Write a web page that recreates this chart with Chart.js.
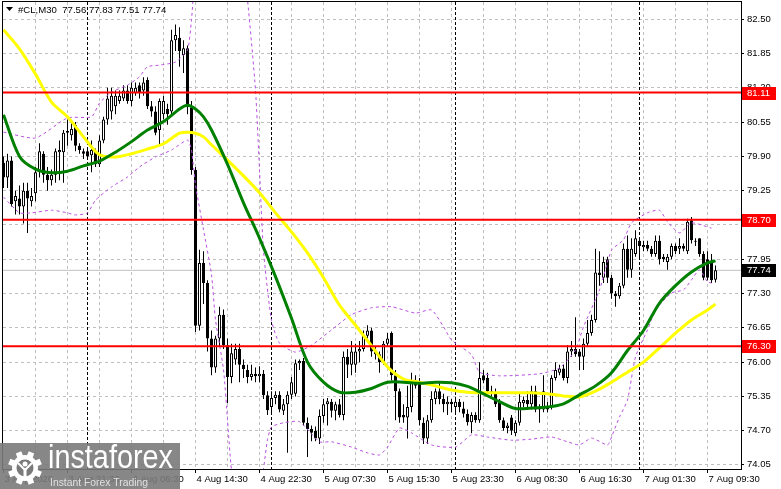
<!DOCTYPE html>
<html>
<head>
<meta charset="utf-8">
<script src="https://cdn.jsdelivr.net/npm/chart.js@4.4.0/dist/chart.umd.min.js"></script>
<style>
  html, body { margin: 0; padding: 0; background: #fff; }
  #wrap { width: 781px; height: 489px; position: relative; }
</style>
</head>
<body>
<div id="wrap"><canvas id="chart" width="781" height="489"></canvas></div>
<script>
// #CL M30 candles, one entry per bar (bar 0 = 3 Aug afternoon, last bar = 7 Aug 10:00)
const opens = [
  79.78, 79.50, 79.82, 79.05, 79.10, 78.95, 79.25, 79.05, 79.20, 79.60,
  79.95, 79.55, 79.45, 79.55, 79.98, 79.98, 80.35, 80.30, 80.50, 80.10,
  80.00, 80.00, 79.92, 80.00, 79.75, 80.20, 80.60, 80.75, 80.85, 80.95,
  81.00, 81.15, 80.95, 81.10, 81.25, 81.15, 81.35, 80.85, 80.75, 80.40,
  80.70, 80.80, 80.75, 82.10, 82.15, 81.82, 81.95, 80.83, 79.64, 76.69,
  77.88, 77.50, 76.45, 75.90, 76.45, 76.90, 76.32, 75.72, 76.05, 76.25,
  75.95, 75.85, 75.72, 75.78, 75.73, 75.78, 75.37, 75.15, 75.32, 75.38,
  75.08, 75.20, 75.38, 75.40, 75.98, 76.02, 74.85, 74.73, 74.70, 74.55,
  74.98, 75.20, 75.25, 75.08, 75.20, 75.00, 76.10, 75.95, 75.95, 76.20,
  76.25, 76.50, 76.60, 76.20, 76.15, 76.00, 76.35, 76.55, 75.75, 75.45,
  75.00, 74.95, 75.15, 75.60, 75.60, 74.85, 74.55, 74.90, 75.30, 75.45,
  75.30, 75.20, 75.25, 75.15, 75.25, 75.12, 75.02, 74.86, 75.00, 74.90,
  75.75, 75.70, 75.45, 75.42, 75.25, 74.90, 74.75, 74.95, 74.65, 74.85,
  75.22, 75.28, 75.20, 75.45, 75.15, 75.10, 75.15, 75.15, 75.70, 75.80,
  75.88, 75.70, 76.20, 76.25, 76.20, 76.10, 76.35, 76.55, 76.80, 77.70,
  77.60, 77.95, 77.60, 77.30, 77.25, 77.45, 78.15, 77.75, 78.05, 78.30,
  78.18, 78.22, 78.15, 78.05, 78.30, 78.00, 77.90, 78.00, 78.20, 78.15,
  78.20, 78.10, 78.69, 78.30, 78.35, 78.05, 77.95, 77.90, 77.56
];
const highs = [
  79.90, 79.95, 79.90, 79.25, 79.35, 79.40, 79.40, 79.30, 79.70, 80.15,
  80.00, 79.70, 79.65, 80.05, 80.20, 80.40, 80.60, 80.55, 80.55, 80.15,
  80.05, 80.05, 80.20, 80.05, 80.30, 80.65, 81.20, 81.20, 81.15, 81.15,
  81.25, 81.25, 81.30, 81.30, 81.30, 81.40, 81.40, 80.95, 80.85, 81.00,
  81.05, 80.90, 82.30, 82.40, 82.35, 82.10, 82.00, 80.95, 79.70, 78.13,
  78.10, 77.55, 76.60, 76.50, 77.05, 77.00, 76.45, 76.35, 76.35, 76.35,
  76.05, 75.95, 75.95, 75.90, 75.92, 75.85, 75.45, 75.45, 75.45, 75.45,
  75.30, 75.45, 75.72, 76.05, 76.05, 76.08, 74.95, 74.80, 74.78, 75.10,
  75.30, 75.32, 75.30, 75.25, 75.30, 76.20, 76.25, 76.40, 76.35, 76.40,
  76.60, 76.70, 76.65, 76.30, 76.20, 76.40, 76.55, 76.58, 75.85, 75.50,
  75.20, 75.55, 75.80, 75.75, 75.70, 74.95, 75.00, 75.45, 75.50, 75.60,
  75.40, 75.35, 75.30, 75.30, 75.30, 75.25, 75.10, 75.05, 75.05, 76.00,
  75.85, 75.80, 75.55, 75.50, 75.30, 74.95, 74.85, 75.00, 74.90, 75.40,
  75.35, 75.45, 75.55, 75.55, 75.20, 75.75, 75.25, 75.75, 76.00, 75.95,
  75.95, 76.32, 76.40, 76.85, 76.25, 76.45, 76.80, 76.90, 78.15, 78.10,
  78.00, 78.00, 77.65, 77.35, 77.50, 78.25, 78.40, 78.35, 78.50, 78.35,
  78.30, 78.30, 78.20, 78.40, 78.40, 78.05, 78.05, 78.25, 78.25, 78.35,
  78.25, 78.72, 78.75, 78.35, 78.35, 78.10, 78.10, 78.05, 77.83
];
const lows = [
  79.30, 79.30, 78.95, 78.80, 78.80, 78.63, 78.45, 78.95, 79.05, 79.50,
  79.40, 79.25, 79.35, 79.40, 79.45, 79.40, 80.10, 80.20, 80.00, 79.95,
  79.85, 79.85, 79.60, 79.70, 79.70, 80.15, 80.50, 80.60, 80.70, 80.90,
  80.95, 80.90, 80.85, 81.05, 81.00, 81.05, 80.80, 80.65, 80.30, 80.10,
  80.60, 80.50, 80.70, 81.90, 81.60, 81.48, 80.70, 79.55, 76.57, 76.60,
  77.10, 76.20, 75.75, 75.80, 76.30, 76.25, 75.22, 75.60, 75.95, 75.62,
  75.70, 75.60, 75.65, 75.62, 75.62, 75.30, 75.00, 75.05, 75.20, 75.05,
  75.00, 74.28, 75.30, 75.35, 75.85, 74.80, 74.20, 74.50, 74.50, 74.45,
  74.85, 74.80, 74.95, 74.90, 74.95, 74.90, 75.70, 75.75, 75.80, 76.00,
  76.20, 76.45, 76.10, 76.05, 75.80, 75.95, 76.30, 75.65, 74.90, 74.85,
  74.85, 74.55, 75.05, 75.50, 74.80, 74.45, 74.45, 74.85, 75.20, 75.20,
  75.05, 75.00, 75.05, 75.05, 75.05, 74.95, 74.80, 74.65, 74.85, 74.85,
  75.60, 75.40, 75.35, 75.15, 74.85, 74.70, 74.65, 74.62, 74.60, 74.80,
  75.15, 75.10, 75.10, 75.05, 74.85, 75.05, 75.05, 75.10, 75.65, 75.75,
  75.65, 75.60, 76.10, 76.10, 75.85, 75.85, 76.30, 76.50, 76.75, 77.45,
  77.50, 77.50, 77.20, 77.05, 77.20, 77.40, 77.60, 77.60, 78.00, 77.95,
  78.10, 78.10, 78.00, 78.00, 77.85, 77.90, 77.75, 77.95, 78.05, 78.05,
  78.10, 78.05, 78.25, 78.20, 78.00, 77.55, 77.55, 77.50, 77.51
];
const closes = [
  79.50, 79.82, 79.00, 79.15, 78.95, 79.25, 79.10, 79.15, 79.60, 80.00,
  79.55, 79.45, 79.55, 80.00, 80.02, 80.35, 80.38, 80.42, 80.10, 80.02,
  79.95, 79.90, 80.02, 79.75, 80.20, 80.60, 81.00, 81.05, 81.05, 81.05,
  81.15, 80.95, 81.20, 81.20, 81.10, 81.30, 80.85, 80.75, 80.35, 80.95,
  80.95, 80.70, 82.10, 82.20, 81.90, 81.95, 80.83, 79.64, 76.69, 77.88,
  77.50, 76.45, 75.90, 76.45, 76.90, 76.32, 75.72, 76.17, 76.25, 75.95,
  75.87, 75.72, 75.78, 75.73, 75.78, 75.37, 75.09, 75.32, 75.38, 75.10,
  75.20, 75.38, 75.62, 75.98, 76.02, 74.85, 74.73, 74.66, 74.55, 74.98,
  75.20, 75.26, 75.08, 75.20, 75.00, 76.10, 75.95, 76.20, 76.20, 76.25,
  76.50, 76.60, 76.20, 76.15, 76.00, 76.35, 76.45, 75.75, 75.45, 74.95,
  74.95, 75.15, 75.65, 75.55, 74.90, 74.55, 74.90, 75.30, 75.45, 75.30,
  75.20, 75.25, 75.20, 75.25, 75.15, 75.02, 74.86, 75.00, 74.90, 75.70,
  75.65, 75.45, 75.40, 75.20, 74.90, 74.75, 74.80, 74.70, 74.85, 75.25,
  75.28, 75.20, 75.45, 75.10, 75.10, 75.45, 75.10, 75.70, 75.85, 75.88,
  75.70, 76.20, 76.25, 76.15, 76.10, 76.35, 76.55, 76.80, 77.70, 77.65,
  77.90, 77.60, 77.30, 77.25, 77.45, 78.15, 77.75, 78.15, 78.35, 78.20,
  78.22, 78.15, 78.05, 78.30, 77.95, 77.95, 78.00, 78.20, 78.10, 78.20,
  78.15, 78.66, 78.31, 78.28, 78.05, 77.60, 77.60, 77.55, 77.74
];

// moving averages, read at these bar numbers
const maBars = [0, 4, 8, 12, 16, 20, 24, 28, 32, 36, 40, 44, 46, 48, 50, 52, 56, 60, 64, 68,
  72, 76, 80, 84, 88, 92, 96, 100, 104, 108, 112, 116, 120, 124, 128, 132, 136, 140, 144, 148,
  152, 156, 160, 164, 168, 172, 176, 178];
const maGreen = [80.69, 79.90, 79.66, 79.59, 79.62, 79.72, 79.81, 79.98, 80.18, 80.40, 80.56, 80.80,
  80.87, 80.80, 80.65, 80.40, 79.75, 79.02, 78.35, 77.62, 76.83, 76.00, 75.62, 75.43, 75.43, 75.50,
  75.62, 75.62, 75.60, 75.62, 75.61, 75.54, 75.40, 75.25, 75.12, 75.13, 75.15, 75.21, 75.38, 75.55,
  75.80, 76.22, 76.60, 77.12, 77.45, 77.71, 77.88, 77.92];
const maYellow = [82.30, 81.94, 81.46, 80.93, 80.65, 80.27, 79.93, 79.89, 79.95, 80.04, 80.14, 80.34,
  80.36, 80.34, 80.27, 80.12, 79.83, 79.53, 79.21, 78.83, 78.47, 78.07, 77.60, 77.08, 76.70, 76.31,
  75.91, 75.68, 75.62, 75.55, 75.47, 75.43, 75.42, 75.42, 75.42, 75.42, 75.40, 75.36, 75.34, 75.45,
  75.62, 75.81, 76.00, 76.27, 76.55, 76.80, 76.99, 77.10];

// envelope bands (dashed purple)
const upperBars = [0, 8, 16, 22, 24, 27, 31, 34, 36, 39, 43, 46, 47, 48, 52, 56, 60, 61, 63, 64,
  65, 67, 69, 73, 77, 82, 87, 92, 97, 103, 107, 110, 112, 117, 119, 124, 134, 139, 143, 145,
  149, 152, 155, 157, 161, 164, 166, 169, 172, 177];
const upperBand = [80.36, 80.25, 80.63, 80.65, 80.91, 81.12, 81.25, 81.41, 81.60, 81.63, 81.69, 81.92,
  82.49, 83.20, 83.60, 83.60, 83.40, 82.87, 81.16, 79.64, 78.12, 76.79, 76.36, 76.19, 76.32, 76.61,
  76.90, 77.03, 77.05, 76.93, 76.99, 76.67, 76.42, 76.14, 75.81, 75.74, 75.78, 75.89, 76.23, 76.67,
  77.37, 78.12, 78.32, 78.64, 78.83, 78.88, 78.66, 78.45, 78.64, 78.54];
const lowerBars = [0, 4, 7, 12, 16, 18, 21, 23, 27, 31, 34, 38, 42, 46, 47, 48, 50, 52, 53, 55,
  56, 57, 59, 63, 65, 66, 67, 70, 74, 79, 82, 87, 91, 94, 96, 99, 102, 107, 113, 117,
  121, 127, 132, 137, 141, 144, 147, 151, 152, 154, 156, 158, 161, 163, 167, 170, 172, 174, 176, 177];
const lowerBand = [79.13, 78.83, 78.83, 78.88, 78.83, 78.79, 78.83, 79.07, 79.32, 79.51, 79.70, 79.89,
  80.02, 80.21, 80.02, 79.36, 78.51, 77.66, 76.80, 75.86, 74.91, 73.96, 73.20, 73.20, 73.98, 74.53,
  74.77, 74.85, 74.87, 74.49, 74.49, 74.39, 74.28, 74.24, 74.39, 74.75, 74.66, 74.43, 74.39, 74.62,
  74.58, 74.52, 74.54, 74.58, 74.49, 74.43, 74.56, 74.43, 74.58, 74.96, 75.28, 76.10, 76.61, 76.99,
  77.31, 77.37, 77.56, 77.75, 77.52, 77.50];

// horizontal levels and price scale
const levels = [81.11, 78.70, 76.30];
const lastPrice = 77.74;
const yTicks = [82.50, 81.85, 81.20, 80.55, 79.90, 79.25, 78.60, 77.95, 77.30, 76.65, 76.00, 75.35, 74.70, 74.05];

// time axis
const timeBars = [0, 16, 32, 48, 64, 80, 96, 112, 128, 144, 160, 176];
const timeLabels = ['3 Aug 2026', '3 Aug 21:30', '4 Aug 06:30', '4 Aug 14:30', '4 Aug 22:30', '5 Aug 07:30',
  '5 Aug 15:30', '5 Aug 23:30', '6 Aug 08:30', '6 Aug 16:30', '7 Aug 01:30', '7 Aug 09:30'];
const dayStartBars = [21, 67, 113, 159];

const xMin = -0.125, xMax = 184.375;
const yMin = 73.974, yMax = 82.827;
const FONT = '"Liberation Sans", Arial, sans-serif';

const idx = closes.map((c, i) => i);
const bodyColors = closes.map((c, i) => (c >= opens[i] ? '#ffffff' : '#000000'));
const pts = (xs, ys) => xs.map((b, k) => ({ x: b, y: ys[k] }));
const flat = v => [{ x: xMin, y: v }, { x: xMax, y: v }];

function strokeLine(ctx, x1, y1, x2, y2) {
  ctx.beginPath(); ctx.moveTo(x1, y1); ctx.lineTo(x2, y2); ctx.stroke();
}

const decor = {
  id: 'decor',
  beforeDatasetsDraw(chart) {
    const { ctx, chartArea: a, scales: { x, y } } = chart;
    ctx.save();
    ctx.lineWidth = 1;
    ctx.strokeStyle = '#c0c0c0';
    ctx.setLineDash([3, 3]);
    yTicks.forEach(v => {
      const py = Math.floor(y.getPixelForValue(v)) + 0.5;
      strokeLine(ctx, a.left, py, a.right, py);
    });
    for (let b = 8; b < 184; b += 8) {
      const px = Math.floor(x.getPixelForValue(b)) + 0.5;
      strokeLine(ctx, px, a.top, px, a.bottom);
    }
    ctx.strokeStyle = '#000';
    ctx.setLineDash([3, 2]);
    dayStartBars.forEach(b => {
      const px = Math.floor(x.getPixelForValue(b)) + 0.5;
      strokeLine(ctx, px, a.top, px, a.bottom);
    });
    ctx.restore();
  },
  afterDraw(chart) {
    const { ctx, chartArea: a, scales: { x, y } } = chart;
    ctx.save();
    ctx.setLineDash([]);
    ctx.strokeStyle = '#000';
    ctx.lineWidth = 1;
    ctx.strokeRect(a.left - 0.5, a.top - 0.5, a.right - a.left + 1, a.bottom - a.top + 1);

    // price scale
    ctx.font = '9.5px ' + FONT;
    ctx.fillStyle = '#000';
    ctx.textBaseline = 'middle';
    ctx.textAlign = 'left';
    yTicks.forEach(v => {
      const py = Math.floor(y.getPixelForValue(v)) + 0.5;
      strokeLine(ctx, a.right, py, a.right + 3, py);
      ctx.fillText(v.toFixed(2), a.right + 6, py);
    });

    // time scale
    timeBars.forEach((b, k) => {
      const px = Math.floor(x.getPixelForValue(b)) + 0.5;
      strokeLine(ctx, px, a.bottom, px, a.bottom + 4);
      ctx.fillText(timeLabels[k], px + 1, a.bottom + 10);
    });

    // level tags
    const tag = (v, bg) => {
      const py = y.getPixelForValue(v);
      ctx.fillStyle = bg;
      ctx.fillRect(a.right + 1, Math.round(py) - 6, 34, 13);
      ctx.fillStyle = '#fff';
      ctx.fillText(v.toFixed(2), a.right + 6, Math.round(py) + 0.5);
    };
    levels.forEach(v => tag(v, '#ff0000'));
    tag(lastPrice, '#000000');

    // header
    const n = closes.length - 1;
    ctx.fillStyle = '#000';
    ctx.beginPath(); ctx.moveTo(6, 7); ctx.lineTo(13, 7); ctx.lineTo(9.5, 11); ctx.closePath(); ctx.fill();
    ctx.font = '9.6px ' + FONT;
    ctx.fillText('#CL,M30  ' + [opens[n], highs[n], lows[n], closes[n]].map(v => v.toFixed(2)).join(' '), 18, 10);

    // watermark logo
    const grey = 'rgba(122,122,122,0.9)';
    ctx.fillStyle = grey;
    ctx.fillRect(0, 443, 180, 46);
    const cx = 25, cy = 468;
    ctx.fillStyle = '#fff';
    for (let k = 0; k < 8; k++) {
      ctx.save(); ctx.translate(cx, cy); ctx.rotate(k * Math.PI / 4 + Math.PI / 8);
      ctx.fillRect(-3, -17, 6, 6); ctx.restore();
    }
    ctx.beginPath(); ctx.arc(cx, cy, 13, 0, Math.PI * 2); ctx.fill();
    ctx.fillStyle = 'rgb(122,122,122)';
    ctx.beginPath(); ctx.arc(cx, cy, 8.5, 0, Math.PI * 2); ctx.fill();
    ctx.fillStyle = '#fff';
    ctx.beginPath(); ctx.arc(cx, cy - 4, 2.5, 0, Math.PI * 2); ctx.fill();
    ctx.fillRect(cx - 1.5, cy, 3, 10);
    ctx.strokeStyle = '#fff'; ctx.lineWidth = 2;
    ctx.beginPath(); ctx.moveTo(cx - 7, cy - 5); ctx.lineTo(cx, cy + 2); ctx.lineTo(cx + 7, cy - 5); ctx.stroke();

    ctx.textBaseline = 'alphabetic';
    ctx.font = '34px ' + FONT;
    let w = ctx.measureText('instaforex').width;
    ctx.save(); ctx.translate(48, 468); ctx.scale(125 / w, 1); ctx.fillText('instaforex', 0, 0); ctx.restore();
    ctx.font = '11px ' + FONT;
    ctx.fillStyle = 'rgba(255,255,255,0.75)';
    w = ctx.measureText('Instant Forex Trading').width;
    ctx.save(); ctx.translate(50, 486); ctx.scale(98 / w, 1); ctx.fillText('Instant Forex Trading', 0, 0); ctx.restore();
    ctx.restore();
  }
};

const bandStyle = { type: 'line', borderColor: '#b84fe0', borderWidth: 1, borderDash: [3, 3], pointRadius: 0, tension: 0.2, order: 3 };

new Chart(document.getElementById('chart'), {
  type: 'bar',
  data: {
    datasets: [
      ...levels.map(v => ({ type: 'line', data: flat(v), borderColor: '#ff0000', borderWidth: 2, pointRadius: 0, order: 0 })),
      { type: 'line', data: pts(maBars, maGreen), borderColor: '#008000', borderWidth: 3, pointRadius: 0, tension: 0.3, order: 1 },
      { type: 'line', data: pts(maBars, maYellow), borderColor: '#ffff00', borderWidth: 3, pointRadius: 0, tension: 0.3, order: 2 },
      { ...bandStyle, data: pts(upperBars, upperBand) },
      { ...bandStyle, data: pts(lowerBars, lowerBand) },
      {
        data: idx.map(i => ({ x: i, y: [opens[i], closes[i]] })),
        backgroundColor: bodyColors, borderColor: '#000', borderWidth: 1, borderSkipped: false,
        grouped: false, barPercentage: 1, categoryPercentage: 1, maxBarThickness: 3, inflateAmount: 0, order: 5
      },
      {
        data: idx.map(i => ({ x: i, y: [lows[i], highs[i]] })),
        backgroundColor: '#000', borderWidth: 0,
        grouped: false, barPercentage: 1, categoryPercentage: 1, maxBarThickness: 1, inflateAmount: 0, order: 6
      },
      { type: 'line', data: flat(lastPrice), borderColor: '#c0c0c0', borderWidth: 1, pointRadius: 0, order: 7 }
    ]
  },
  options: {
    responsive: false,
    animation: false,
    events: [],
    layout: { padding: { left: 3, right: 40, top: 2, bottom: 20 } },
    plugins: { legend: { display: false }, tooltip: { enabled: false } },
    scales: {
      x: { type: 'linear', min: xMin, max: xMax, offset: false, display: false },
      y: { type: 'linear', min: yMin, max: yMax, beginAtZero: false, display: false }
    }
  },
  plugins: [decor]
});
</script>
</body>
</html>
